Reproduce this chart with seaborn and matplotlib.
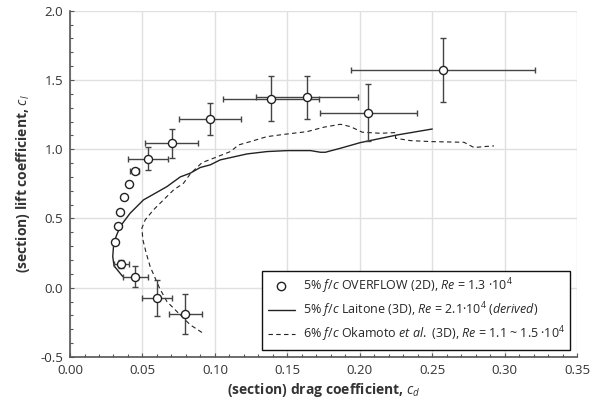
import numpy as np
import pandas as pd
import matplotlib
matplotlib.use("Agg")
import matplotlib.pyplot as plt
import seaborn as sns
from matplotlib.lines import Line2D

# OVERFLOW (2D) data with error bars
of_cd = [0.0313, 0.0330, 0.0348, 0.0376, 0.0406, 0.0447, 0.0539, 0.0701, 0.0966,
         0.1388, 0.1637, 0.2059, 0.2575, 0.0355, 0.0452, 0.0602, 0.0797]
of_cl = [0.329, 0.444, 0.548, 0.652, 0.747, 0.846, 0.932, 1.043, 1.219,
         1.365, 1.375, 1.264, 1.572, 0.172, 0.081, -0.075, -0.188]
of_cd_err = [0.0, 0.0, 0.0, 0.0, 0.0, 0.003, 0.0136, 0.018, 0.0215,
             0.033, 0.035, 0.0334, 0.0635, 0.005, 0.0087, 0.0103, 0.0116]
of_cl_err = [0.0, 0.0, 0.0, 0.0, 0.0, 0.0, 0.082, 0.103, 0.117,
             0.162, 0.157, 0.206, 0.231, 0.03, 0.078, 0.13, 0.143]

# Laitone (3D), derived
la_cd = [0.0364, 0.0304, 0.0295, 0.0300, 0.0318, 0.0346, 0.0415, 0.0507, 0.0669,
         0.0761, 0.0830, 0.0899, 0.0968, 0.1037, 0.1222, 0.1360, 0.1499, 0.1660,
         0.1729, 0.1763, 0.1798, 0.1867, 0.2005, 0.2259, 0.2501]
la_cl = [0.081, 0.158, 0.225, 0.297, 0.370, 0.442, 0.538, 0.634, 0.730,
         0.800, 0.827, 0.868, 0.887, 0.923, 0.966, 0.983, 0.990, 0.990,
         0.978, 0.978, 0.988, 1.007, 1.048, 1.103, 1.146]

# Okamoto et al. (3D)
ok_cd = [0.0911, 0.0830, 0.0738, 0.0669, 0.0618, 0.0588, 0.0553, 0.0526, 0.0503,
         0.0496, 0.0519, 0.0576, 0.0645, 0.0715, 0.0784, 0.0830, 0.0911, 0.0991,
         0.1107, 0.1164, 0.1245, 0.1360, 0.1499, 0.1637, 0.1752, 0.1867, 0.1936,
         0.2017, 0.2144, 0.2247, 0.2247, 0.2351, 0.2490, 0.2720, 0.2789, 0.2858,
         0.2927]
ok_cl = [-0.323, -0.268, -0.172, -0.100, -0.003, 0.069, 0.153, 0.250, 0.346,
         0.430, 0.490, 0.562, 0.634, 0.706, 0.755, 0.822, 0.903, 0.935,
         0.983, 1.031, 1.055, 1.091, 1.110, 1.127, 1.159, 1.180, 1.163,
         1.123, 1.115, 1.120, 1.079, 1.062, 1.055, 1.050, 1.012, 1.019,
         1.024]

xticks = [0.00, 0.05, 0.10, 0.15, 0.20, 0.25, 0.30, 0.35]
yticks = [-0.5, 0.0, 0.5, 1.0, 1.5, 2.0]

sns.set_theme(style="white")
plt.rcParams['font.family'] = ['Open Sans', 'DejaVu Sans']
plt.rcParams['mathtext.fontset'] = 'custom'
plt.rcParams['mathtext.rm'] = 'Open Sans'
plt.rcParams['mathtext.it'] = 'Open Sans:italic'
plt.rcParams['mathtext.bf'] = 'Open Sans:bold'
plt.rcParams['axes.unicode_minus'] = False

fig = plt.figure(figsize=(5.99, 4.08), dpi=100)
ax = fig.add_axes([0.1169, 0.125, 0.8464, 0.8488])

ax.grid(True, which='major', color='#e0e0e0', linewidth=1.0)
ax.set_axisbelow(True)

la_df = pd.DataFrame({'cd': la_cd, 'cl': la_cl})
ok_df = pd.DataFrame({'cd': ok_cd, 'cl': ok_cl})

ax.errorbar(of_cd, of_cl, xerr=of_cd_err, yerr=of_cl_err, fmt='none',
            ecolor='#444444', elinewidth=1.0, capsize=2.2, capthick=1.0, zorder=3)
sns.lineplot(data=la_df, x='cd', y='cl', sort=False, estimator=None, ax=ax,
             color='#222222', linewidth=1.0, zorder=2)
sns.lineplot(data=ok_df, x='cd', y='cl', sort=False, estimator=None, ax=ax,
             color='#222222', linewidth=0.8, linestyle=(0, (4, 3)), zorder=2)
sns.scatterplot(x=of_cd, y=of_cl, ax=ax, marker='o', s=34, facecolor='white',
                edgecolor='#222222', linewidth=1.0, zorder=4)

ax.set_xlim(0, 0.35)
ax.set_ylim(-0.5, 2.0)
ax.set_xticks(xticks)
ax.set_yticks(yticks)
ax.set_xticklabels([f"{v:.2f}" for v in xticks])
ax.set_yticklabels([f"{v:.1f}" for v in yticks])
ax.set_xticks(np.arange(0, 0.351, 0.01), minor=True)
ax.set_yticks(np.arange(-0.5, 2.001, 0.1), minor=True)
ax.tick_params(axis='both', which='both', direction='in', length=3, width=0.8,
               colors='#555555', labelcolor='#333333', labelsize=9.5)
ax.tick_params(axis='both', which='minor', length=2)
ax.tick_params(axis='x', pad=5)
ax.tick_params(axis='y', pad=5)
ax.xaxis.set_ticks_position('bottom')
ax.yaxis.set_ticks_position('left')

for s in ['top', 'right']:
    ax.spines[s].set_visible(False)
for s in ['left', 'bottom']:
    ax.spines[s].set_color('#555555')
    ax.spines[s].set_linewidth(1.2)

ax.set_xlabel(r"(section) drag coefficient, $c_d$", fontsize=10, fontweight='bold',
              color='#333333', labelpad=3)
ax.set_ylabel(r"(section) lift coefficient, $c_l$", fontsize=10, fontweight='bold',
              color='#333333', labelpad=6)

handles = [
    Line2D([], [], marker='o', linestyle='none', markerfacecolor='white',
           markeredgecolor='#222222', markersize=6),
    Line2D([], [], color='#222222', linewidth=1.0),
    Line2D([], [], color='#222222', linewidth=0.8, linestyle=(0, (4, 3))),
]
labels = [
    r"5% $f/c$ OVERFLOW (2D), $Re$ = 1.3 ·10$^4$",
    r"5% $f/c$ Laitone (3D), $Re$ = 2.1·10$^4$ $(derived)$",
    r"6% $f/c$ Okamoto $et\ al.$ (3D), $Re$ = 1.1 ~ 1.5 ·10$^4$",
]
leg = ax.legend(handles, labels, loc='lower right', bbox_to_anchor=(0.987, 0.02),
                fontsize=9, frameon=True, fancybox=False, edgecolor='#111111',
                framealpha=1.0, borderpad=0.45, labelspacing=0.35,
                handlelength=2.2, handletextpad=0.6, borderaxespad=0.0)
leg.get_frame().set_linewidth(1.0)

fig.savefig("out.png", dpi=100)
